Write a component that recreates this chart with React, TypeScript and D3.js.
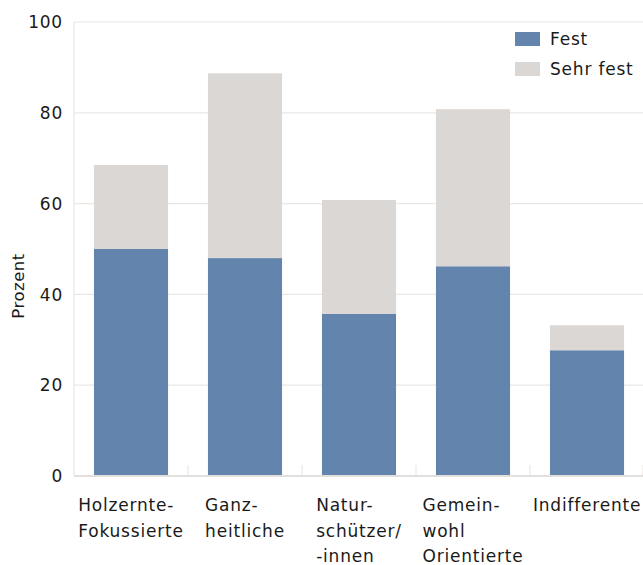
import React from "react";
import * as d3 from "d3";

const categories: string[][] = [
  ["Holzernte-", "Fokussierte"],
  ["Ganz-", "heitliche"],
  ["Natur-", "schützer/", "-innen"],
  ["Gemein-", "wohl", "Orientierte"],
  ["Indifferente"],
];
const fest = [50.0, 48.0, 35.7, 46.2, 27.7];
const sehrFest = [18.5, 40.7, 25.1, 34.6, 5.5];
const yTicks = [0, 20, 40, 60, 80, 100];
const seriesNames = ["Fest", "Sehr fest"];
const seriesColors = ["#6385ad", "#dbd7d4"];

const W = 643;
const H = 565;
const FONT = "'DejaVu Sans', 'Noto Sans', sans-serif";
const FS = 17;
const LS = 0.8;

export default function App() {
  const left = 74;
  const right = 644;
  const top = 22;
  const bottom = 476;

  const ids = categories.map((_, i) => String(i));
  const x = d3.scaleBand<string>().domain(ids).range([left, right]).paddingInner(0.35).paddingOuter(0.175);
  const y = d3.scaleLinear().domain([0, 100]).range([bottom, top]);

  const rows = ids.map((id, i) => ({ id, fest: fest[i], sehrFest: sehrFest[i] }));
  const stacked = d3.stack<any>().keys(["fest", "sehrFest"])(rows);

  const step = x.step();
  const boundaries = ids.slice(1).map((id) => (x(id) as number) - x.paddingInner() * step / 2);
  boundaries.push(right - 1);

  // block width of a multi-line label, so the left-aligned block can be centred on its bar
  const ctx = document.createElement("canvas").getContext("2d")!;
  ctx.font = `${FS}px ${FONT}`;
  const measure = (s: string) => ctx.measureText(s).width + LS * s.length;

  return (
    <svg width={W} height={H} style={{ position: "absolute", left: 0, top: 0, background: "#fff" }} fontFamily={FONT}>
      {/* gridlines */}
      {yTicks.slice(1).map((t) => (
        <line key={t} x1={left} x2={W} y1={y(t)} y2={y(t)} stroke="#ebe7e4" strokeWidth={1.2} />
      ))}
      {/* vertical axis line */}
      <line x1={left} x2={left} y1={top} y2={bottom} stroke="#ebe7e4" strokeWidth={1.2} />
      {/* category separators */}
      {boundaries.map((b, i) => (
        <line key={i} x1={b} x2={b} y1={bottom - 11} y2={bottom} stroke="#ebe7e4" strokeWidth={1.2} />
      ))}
      {/* bars */}
      {stacked.map((layer, si) => (
        <g key={si} fill={seriesColors[si]}>
          {layer.map((d, i) => (
            <rect
              key={i}
              x={x(ids[i])}
              width={x.bandwidth()}
              y={y(d[1])}
              height={y(d[0]) - y(d[1])}
            />
          ))}
        </g>
      ))}
      {/* baseline */}
      <line x1={left} x2={W} y1={bottom} y2={bottom} stroke="#e3dfdc" strokeWidth={2} />
      {/* y tick labels */}
      {yTicks.map((t) => (
        <text key={t} x={63} y={y(t)} dy="0.36em" textAnchor="end" fontSize={FS} letterSpacing={LS} fill="#1a1a1a">
          {t}
        </text>
      ))}
      <text
        transform={`translate(24,286) rotate(-90)`}
        textAnchor="middle"
        fontSize={16.5}
        letterSpacing={0.5}
        fill="#1a1a1a"
      >
        Prozent
      </text>
      {/* x labels */}
      {categories.map((lines, i) => {
        const cx = (x(ids[i]) as number) + x.bandwidth() / 2;
        const bw = Math.max(...lines.map(measure));
        return (
          <text key={i} fontSize={FS} letterSpacing={LS} fill="#1a1a1a">
            {lines.map((l, j) => (
              <tspan key={j} x={cx - bw / 2} y={511 + j * 25.5}>
                {l}
              </tspan>
            ))}
          </text>
        );
      })}
      {/* legend */}
      {seriesNames.map((n, i) => (
        <g key={n} transform={`translate(515,${32 + i * 30})`}>
          <rect width={25} height={14} fill={seriesColors[i]} />
          <text x={35} y={7} dy="0.36em" fontSize={FS} letterSpacing={LS} fill="#1a1a1a">
            {n}
          </text>
        </g>
      ))}
    </svg>
  );
}
